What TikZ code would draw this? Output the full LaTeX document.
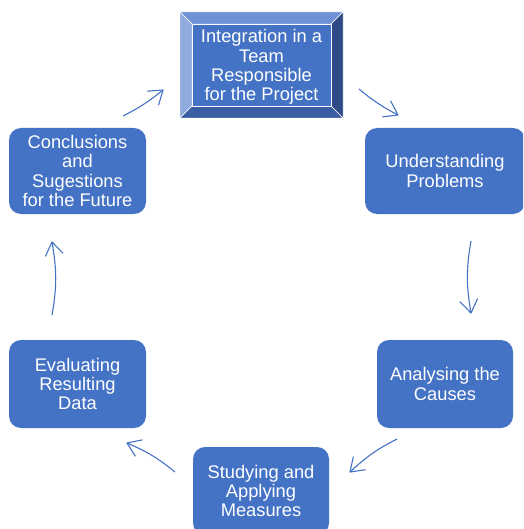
\documentclass[tikz,border=0pt]{standalone}
\usepackage{fontspec}
\setmainfont{Liberation Sans}
\usetikzlibrary{decorations.markings}
\definecolor{azul}{HTML}{4472C4}
\definecolor{bsup}{HTML}{6F91D6}
\definecolor{bizq}{HTML}{8FAADC}
\definecolor{bder}{HTML}{2E4B85}
\definecolor{binf}{HTML}{3A5DA3}
\begin{document}
\begin{tikzpicture}[x=1pt,y=-1pt,
        caja/.style={fill=azul, rounded corners=12pt, text=white, align=center,
          font=\fontsize{18.3}{19.4}\selectfont, inner sep=0pt},
        ciclo/.style={draw=azul, line width=1.1pt, postaction={decorate},
          decoration={markings, mark=at position 1 with
            {\draw[azul, line width=1.1pt, line join=round] (-13pt,9pt) -- (0pt,0pt) -- (-13pt,-9pt);}}}]
        \useasboundingbox (0,0) rectangle (523,529);
        \clip (0,0) rectangle (523,529);
        % marco biselado arriba
        \draw[white, fill=bsup] (180,12) -- (343,12) -- (331,24) -- (192,24) -- cycle;
        \draw[white, fill=bizq] (180,12) -- (192,24) -- (192,106) -- (180,118) -- cycle;
        \draw[white, fill=bder] (343,12) -- (343,118) -- (331,106) -- (331,24) -- cycle;
        \draw[white, fill=binf] (180,118) -- (192,106) -- (331,106) -- (343,118) -- cycle;
        \node[caja, rounded corners=0pt, draw=white, minimum width=139pt, minimum height=82pt]
          (integ) at (261.5,65) {};
        \node[caja, fill=none] (integt) at (261.5,67) {Integration in a\\Team\\Responsible\\for the Project};
        % cajas del ciclo
        \node[caja, minimum width=160pt, minimum height=86pt] (under) at (445,171) {Understanding\\Problems};
        \node[caja, minimum width=136pt, minimum height=88pt] (analys) at (445,384) {Analysing the\\Causes};
        \node[caja, minimum width=136pt, minimum height=88pt] (study) at (261,491) {Studying and\\Applying\\Measures};
        \node[caja, minimum width=137pt, minimum height=88pt] (evalu) at (77.5,384) {Evaluating\\Resulting\\Data};
        \node[caja, minimum width=137pt, minimum height=86pt] (concl) at (77.5,171) {Conclusions\\and\\Sugestions\\for the Future};
        % flechas
        \coordinate (f1a) at (359,89);  \coordinate (f1b) at (398,115);
        \coordinate (f2a) at (471,241); \coordinate (f2b) at (471,313);
        \coordinate (f3a) at (397,439); \coordinate (f3b) at (350,472);
        \coordinate (f4a) at (175,472); \coordinate (f4b) at (127,443);
        \coordinate (f5a) at (52,315);  \coordinate (f5b) at (52,242);
        \coordinate (f6a) at (123,116); \coordinate (f6b) at (163,90);
        \draw[ciclo] (f1a) to[bend right=6] (f1b);
        \draw[ciclo] (f2a) to[bend right=10] (f2b);
        \draw[ciclo] (f3a) to[bend right=8] (f3b);
        \draw[ciclo] (f4a) to[bend right=8] (f4b);
        \draw[ciclo] (f5a) to[bend right=10] (f5b);
        \draw[ciclo] (f6a) to[bend right=6] (f6b);
\end{tikzpicture}
\end{document}
